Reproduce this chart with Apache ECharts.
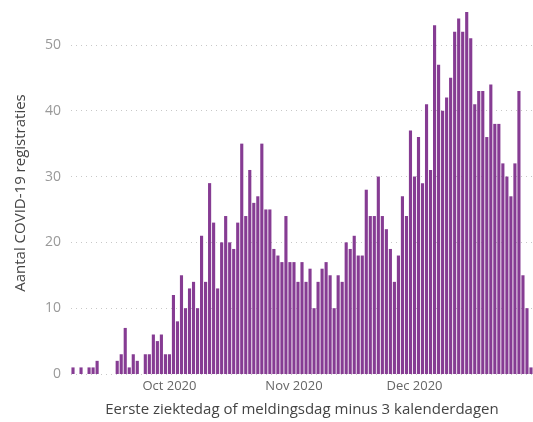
<!DOCTYPE html>
<html>
<head>
<meta charset="utf-8">
<script src="https://cdn.jsdelivr.net/npm/echarts@6/dist/echarts.min.js"></script>
<style>
  html, body { margin: 0; padding: 0; background: #fff; }
  #chart { width: 533px; height: 422px; }
</style>
</head>
<body>
<div id="chart"></div>
<script>
// eerste dag van de reeks (ma 7 sep 2020), daarna één balk per dag
const startDate = '2020-09-07';

// aantal registraties per dag
const registraties = [
  1, 0, 1, 0, 1, 1, 2, 0, 0, 0,
  0, 2, 3, 7, 1, 3, 2, 0, 3, 3,
  6, 5, 6, 3, 3, 12, 8, 15, 10, 13,
  14, 10, 21, 14, 29, 23, 13, 20, 24, 20,
  19, 23, 35, 24, 31, 26, 27, 35, 25, 25,
  19, 18, 17, 24, 17, 17, 14, 17, 14, 16,
  10, 14, 16, 17, 15, 10, 15, 14, 20, 19,
  21, 18, 18, 28, 24, 24, 30, 24, 22, 19,
  14, 18, 27, 24, 37, 30, 36, 29, 41, 31,
  53, 47, 40, 42, 45, 52, 54, 52, 55, 51,
  41, 43, 43, 36, 44, 38, 38, 32, 30, 27,
  32, 43, 15, 10, 1
];

const monthNames = ['Jan', 'Feb', 'Mar', 'Apr', 'May', 'Jun', 'Jul', 'Aug', 'Sep', 'Oct', 'Nov', 'Dec'];
const labelledMonths = ['2020-10', '2020-11', '2020-12'];

// datums bij de balken
const dagen = [];
const d0 = new Date(startDate + 'T00:00:00Z');
for (let i = 0; i < registraties.length; i++) {
  const d = new Date(d0.getTime() + i * 86400000);
  dagen.push(d.toISOString().slice(0, 10));
}

const chart = echarts.init(document.getElementById('chart'), null, { renderer: 'canvas' });

const option = {
  animation: false,
  textStyle: { fontFamily: 'Open Sans' },
  grid: { left: 71, right: 0, top: 12, bottom: 46 },
  xAxis: {
    type: 'category',
    data: dagen,
    name: 'Eerste ziektedag of meldingsdag minus 3 kalenderdagen',
    nameLocation: 'middle',
    nameGap: 28,
    nameTextStyle: { color: '#444', fontSize: 15 },
    axisLine: { show: false },
    axisTick: { show: false },
    axisLabel: {
      color: '#666',
      fontSize: 13,
      margin: 6,
      interval: function (idx, val) {
        return val.slice(8) === '01' && labelledMonths.indexOf(val.slice(0, 7)) >= 0;
      },
      formatter: function (val) {
        return monthNames[Number(val.slice(5, 7)) - 1] + ' ' + val.slice(0, 4);
      }
    }
  },
  yAxis: {
    type: 'value',
    min: 0,
    max: 55,
    interval: 10,
    name: 'Aantal COVID-19 registraties',
    nameLocation: 'middle',
    nameGap: 43,
    nameTextStyle: { color: '#444', fontSize: 15 },
    axisLine: { show: false },
    axisTick: { show: false },
    axisLabel: { color: '#999', fontSize: 14, margin: 10, showMaxLabel: false },
    splitLine: {
      show: true,
      showMaxLine: false,
      lineStyle: { color: '#c8c8c8', width: 1, type: [1, 4] }
    }
  },
  series: [{
    type: 'bar',
    data: registraties,
    barCategoryGap: '22%',
    itemStyle: { color: '#863c93' }
  }]
};

chart.setOption(option);
</script>
</body>
</html>
